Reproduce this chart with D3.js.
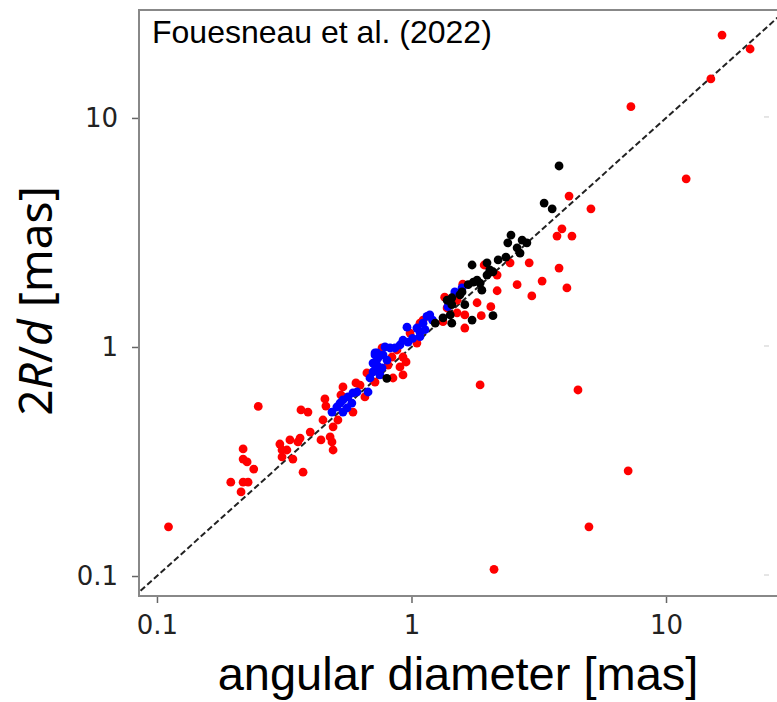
<!DOCTYPE html>
<html>
<head>
<meta charset="utf-8">
<script src="https://cdn.jsdelivr.net/npm/d3@7"></script>
<style>
body { margin: 0; background: #fff; }
</style>
</head>
<body>
<div id="chart"></div>
<script>
// angular diameter [mas] vs 2R/d [mas]
var redPoints = [
    [0.111,0.164],[0.25,0.55],[0.195,0.257],[0.218,0.257],[0.228,0.257],[0.214,0.233],[0.240,0.293],[0.218,0.359],[0.218,0.324],[0.226,0.315],
    [0.304,0.377],[0.31,0.355],[0.324,0.355],[0.31,0.331],[0.342,0.324],[0.333,0.393],[0.358,0.385],[0.365,0.40],[0.375,0.284],[0.368,0.531],
    [0.392,0.52],[0.40,0.425],[0.441,0.393],[0.479,0.405],[0.487,0.385],[0.492,0.355],[0.449,0.48],[0.492,0.448],[0.514,0.48],[0.457,0.593],
    [0.461,0.552],[0.528,0.617],[0.538,0.669],[0.589,0.52],[0.605,0.697],[0.628,0.682],[0.719,0.703],[0.538,0.605],[0.668,0.77],[0.656,0.605],
    [1.08,1.27],[0.987,1.15],[1.05,1.04],[0.877,0.97],[0.766,0.99],[0.838,0.904],[0.926,0.904],[0.952,0.86],[0.809,0.834],[0.901,0.818],
    [0.846,0.732],[0.926,0.755],
    [1.93,2.28],[2.44,2.33],[2.90,2.33],[2.17,2.06],[3.80,2.21],[3.26,1.94],[2.60,1.87],[2.17,1.76],[2.97,1.67],[4.08,1.81],
    [1.59,1.88],[1.35,1.65],[1.51,1.60],[1.81,1.56],[1.38,1.48],[1.51,1.41],[1.62,1.38],[1.88,1.37],[2.05,1.50],[1.62,1.21],
    [1.33,1.29],[1.11,1.31],[3.73,3.05],[4.27,3.05],[3.90,3.28],[4.16,4.56],[5.07,4.01],
    [1.86,0.683],[4.51,0.649],[7.10,0.288],[4.98,0.164],[2.11,0.107],[12.0,5.42],[7.28,11.2],[15.0,14.8],[16.6,23.0],[21.4,20.0]
];
var bluePoints = [
    [0.487,0.52],[0.509,0.547],[0.524,0.569],[0.538,0.587],[0.563,0.605],[0.589,0.63],[0.611,0.636],[0.675,0.636],[0.687,0.732],[0.706,0.851],
    [0.732,0.942],[0.732,0.834],[0.719,0.794],[0.558,0.542],[0.538,0.52],[0.583,0.569],[0.719,0.942],[0.738,0.895],[0.773,0.923],[0.801,0.877],
    [0.766,0.81],[0.706,0.778],[0.752,0.755],[0.787,1.0],[0.861,0.99],[0.901,1.02],[0.926,1.07],[0.969,1.05],[1.01,1.09],[0.96,1.22],
    [1.05,1.21],[1.08,1.16],[1.13,1.19],[1.08,1.11],[1.18,1.38],[1.21,1.31],[1.15,1.36],[1.11,1.27],[1.39,1.50],[1.48,1.74],
    [1.58,1.81],[0.824,0.99],[0.719,0.923]
];
var blackPoints = [
    [2.46,3.08],[2.39,2.85],[2.60,2.71],[2.84,2.85],[2.67,2.57],[2.72,2.93],[2.35,2.47],[2.19,2.40],[1.98,2.33],[1.73,2.28],
    [2.09,2.13],[2.03,2.17],[1.98,2.06],[1.81,1.96],[1.86,1.90],[1.89,1.77],[1.75,1.92],[1.67,1.87],[1.55,1.69],[1.44,1.64],
    [1.58,1.74],[1.38,1.60],[1.62,1.53],[1.44,1.53],[1.42,1.38],[1.33,1.34],[1.44,1.27],[1.73,1.31],[2.09,1.37],[3.80,6.17],
    [3.32,4.25],[3.57,4.01],[0.80,0.73],[1.24,1.27]
];

var majorTicks = [0.1, 1, 10];
var majorLabels = ["0.1", "1", "10"];
var minorTicks = [0.09, 0.2, 0.3, 0.4, 0.5, 0.6, 0.7, 0.8, 0.9, 2, 3, 4, 5, 6, 7, 8, 9, 20];
var xDomain = [0.085, 30.7];
var yDomain = [0.0818, 29.6];

ScatterChart = {
    svg : null,
    w : 777,
    h : 702,
    left : 139,
    top : 10,
    right : 790,   // right spine is outside the picture
    bottom : 596,

    init : function(divName) {
        d3.selectAll(divName + ' svg').remove(); // clean
        this.svg = d3.select(divName)
            .append("svg")
            .attr("width", this.w)
            .attr("height", this.h);

        this.x = d3.scaleLog().domain(xDomain).range([this.left, this.right]);
        this.y = d3.scaleLog().domain(yDomain).range([this.bottom, this.top]);

        this.drawPlot();
        this.drawAxes();
        this.drawLabels();
        return this;
    },

    drawPlot : function() {
        var x = this.x, y = this.y;

        this.svg.append("clipPath")
            .attr("id", "plot-clip")
            .append("rect")
            .attr("x", this.left)
            .attr("y", this.top)
            .attr("width", this.right - this.left)
            .attr("height", this.bottom - this.top);

        var plot = this.svg.append("g").attr("clip-path", "url(#plot-clip)");

        // one-to-one line
        var line = d3.line()
            .x(function(d) { return x(d); })
            .y(function(d) { return y(d); });
        plot.append("path")
            .datum([0.05, 50])
            .attr("d", line)
            .attr("fill", "none")
            .attr("stroke", "#222")
            .attr("stroke-width", 2)
            .attr("stroke-dasharray", "6,3");

        var groups = [
            { pts : redPoints, color : "#ff0000" },
            { pts : bluePoints, color : "#0000ff" },
            { pts : blackPoints, color : "#000000" }
        ];
        groups.forEach(function(g) {
            plot.append("g")
                .selectAll("circle")
                .data(g.pts)
                .enter().append("circle")
                .attr("cx", function(d) { return x(d[0]); })
                .attr("cy", function(d) { return y(d[1]); })
                .attr("r", 4.4)
                .attr("fill", g.color);
        });

        // faint ticks of the neighbouring panel, cut off at the right edge
        this.svg.append("g")
            .selectAll("line")
            .data(majorTicks)
            .enter().append("line")
            .attr("x1", 764).attr("x2", 769)
            .attr("y1", function(d) { return y(d) - 1; })
            .attr("y2", function(d) { return y(d) - 1; })
            .attr("stroke", "#ddd")
            .attr("stroke-width", 1.5);
    },

    drawAxes : function() {
        var x = this.x, y = this.y;
        var fmt = function(d, i) { return majorLabels[i]; };

        var gx = this.svg.append("g")
            .attr("transform", "translate(0," + this.bottom + ")");
        gx.call(d3.axisBottom(x).tickValues(minorTicks).tickFormat("").tickSize(4));
        gx.call(d3.axisBottom(x).tickValues(majorTicks).tickFormat(fmt).tickSize(7).tickPadding(13));

        var gy = this.svg.append("g")
            .attr("transform", "translate(" + this.left + ",0)");
        gy.call(d3.axisLeft(y).tickValues(minorTicks).tickFormat("").tickSize(4));
        gy.call(d3.axisLeft(y).tickValues(majorTicks).tickFormat(fmt).tickSize(7).tickPadding(14));

        this.svg.selectAll(".domain").remove();
        this.svg.selectAll(".tick line")
            .attr("stroke", "#666")
            .attr("stroke-width", 1.5);
        this.svg.selectAll(".tick text")
            .attr("fill", "#222")
            .style("font-family", "DejaVu Sans")
            .style("font-size", "26px");

        // spines
        this.svg.append("rect")
            .attr("x", this.left)
            .attr("y", this.top)
            .attr("width", this.right - this.left)
            .attr("height", this.bottom - this.top)
            .attr("fill", "none")
            .attr("stroke", "#888")
            .attr("stroke-width", 2);
    },

    drawLabels : function() {
        this.svg.append("text")
            .attr("x", 152)
            .attr("y", 43)
            .style("font-family", "Liberation Sans")
            .style("font-size", "32px")
            .text("Fouesneau et al. (2022)");

        this.svg.append("text")
            .attr("x", 458)
            .attr("y", 690)
            .attr("text-anchor", "middle")
            .style("font-family", "Liberation Sans")
            .style("font-size", "47px")
            .text("angular diameter [mas]");

        var yl = this.svg.append("text")
            .attr("transform", "translate(52,301) rotate(-90)")
            .attr("text-anchor", "middle")
            .style("font-family", "Noto Sans")
            .style("font-size", "46px");
        yl.append("tspan").text("2");
        yl.append("tspan").style("font-style", "italic").text("R");
        yl.append("tspan").text("/");
        yl.append("tspan").style("font-style", "italic").text("d");
        yl.append("tspan").text(" [mas]");
    }
};

ScatterChart.init("#chart");
</script>
</body>
</html>
